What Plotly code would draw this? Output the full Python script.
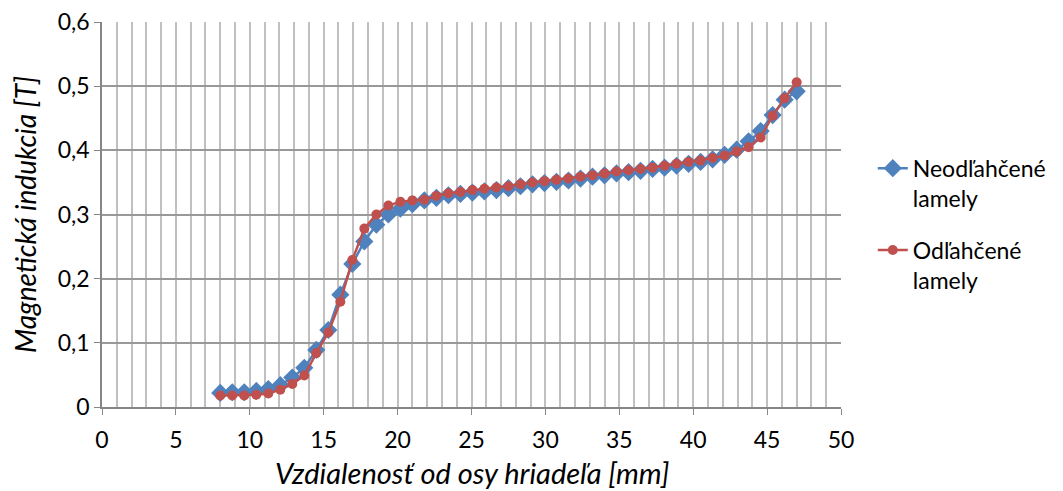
import plotly.graph_objects as go

# distance from shaft axis [mm], 49 measuring points
x_mm = [8 + 0.8125 * i for i in range(49)]

# magnetic induction [T]
b_neodlahcene = [
    0.022, 0.023, 0.023, 0.025, 0.028, 0.034, 0.046, 0.061, 0.089, 0.120,
    0.175, 0.223, 0.258, 0.284, 0.300, 0.309, 0.316, 0.322, 0.326, 0.330,
    0.332, 0.334, 0.336, 0.338, 0.341, 0.344, 0.347, 0.349, 0.351, 0.353,
    0.356, 0.359, 0.361, 0.364, 0.366, 0.368, 0.371, 0.373, 0.376, 0.379,
    0.382, 0.386, 0.393, 0.401, 0.414, 0.430, 0.455, 0.479, 0.492,
]
b_odlahcene = [
    0.018, 0.018, 0.018, 0.019, 0.021, 0.027, 0.036, 0.049, 0.084, 0.116,
    0.164, 0.229, 0.278, 0.300, 0.314, 0.320, 0.322, 0.323, 0.329, 0.333,
    0.335, 0.338, 0.340, 0.342, 0.344, 0.347, 0.350, 0.352, 0.354, 0.356,
    0.359, 0.361, 0.364, 0.367, 0.369, 0.371, 0.373, 0.376, 0.379, 0.382,
    0.384, 0.388, 0.392, 0.398, 0.405, 0.420, 0.454, 0.481, 0.506,
]

y_ticks = [0, 0.1, 0.2, 0.3, 0.4, 0.5, 0.6]
y_ticktext = ['0', '0,1', '0,2', '0,3', '0,4', '0,5', '0,6']

FONT = 'Lato'
grid_v = '#c0c0c0'
grid_h = '#999999'
axis_c = '#868686'

fig = go.Figure()
fig.add_trace(go.Scatter(
    x=x_mm, y=b_neodlahcene,
    mode='lines+markers',
    name='Neodľahčené<br>lamely',
    legendgroup='a',
    line=dict(color='#4F81BD', width=2.5),
    marker=dict(symbol='diamond', size=14, color='#4F81BD'),
))
fig.add_trace(go.Scatter(
    x=x_mm, y=b_odlahcene,
    mode='lines+markers',
    name='Odľahčené<br>lamely',
    legendgroup='b',
    line=dict(color='#C0504D', width=2.5),
    marker=dict(symbol='circle', size=10, color='#C0504D'),
))

# axis titles as annotations so they sit where the original has them
fig.add_annotation(
    text='<i>Vzdialenosť od osy hriadeľa [mm]</i>',
    xref='paper', yref='paper', x=0.5, y=-0.17,
    xanchor='center', yanchor='middle', showarrow=False,
    font=dict(family=FONT, size=29),
)
fig.add_annotation(
    text='<i>Magnetická indukcia [T]</i>',
    xref='paper', yref='paper', x=-0.105, y=0.5,
    xanchor='center', yanchor='middle', showarrow=False, textangle=-90,
    font=dict(family=FONT, size=28),
)

fig.update_layout(
    width=1063,
    height=491,
    margin=dict(l=94, r=230, t=14, b=92),
    paper_bgcolor='white',
    plot_bgcolor='white',
    font=dict(family=FONT, size=23, color='#000000'),
    separators=', ',
    showlegend=True,
    legend=dict(
        x=1.043, xanchor='left',
        y=0.676, yanchor='top',
        valign='top',
        font=dict(family=FONT, size=23),
        tracegroupgap=19,
    ),
    xaxis=dict(
        range=[0, 50],
        dtick=5,
        tick0=0,
        automargin=False,
        showgrid=True,
        gridcolor=grid_v,
        gridwidth=1.5,
        minor=dict(dtick=1, showgrid=True, gridcolor=grid_v, gridwidth=1.5),
        showline=True,
        linecolor=axis_c,
        linewidth=1.5,
        ticks='outside',
        ticklen=6,
        tickcolor=axis_c,
        ticklabelstandoff=6,
        ticklabeloverflow='allow',
        zeroline=False,
    ),
    yaxis=dict(
        range=[0, 0.6],
        tickvals=y_ticks,
        ticktext=y_ticktext,
        ticksuffix='\u00a0\u00a0',
        automargin=False,
        showgrid=True,
        gridcolor=grid_h,
        gridwidth=1.5,
        showline=True,
        linecolor=axis_c,
        linewidth=1.5,
        ticks='outside',
        ticklen=6,
        tickcolor=axis_c,
        ticklabeloverflow='allow',
        zeroline=False,
    ),
)

fig.write_html('out.html')
